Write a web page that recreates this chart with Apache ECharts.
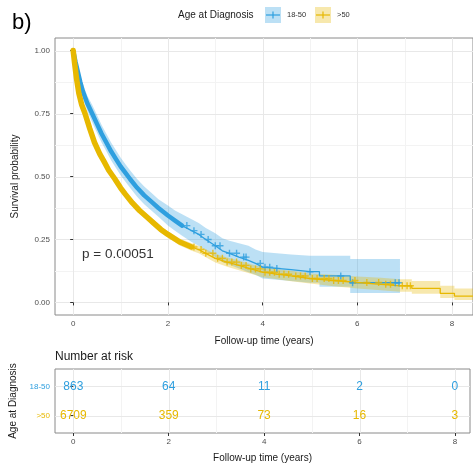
<!DOCTYPE html>
<html>
<head>
<meta charset="utf-8">
<script src="https://cdn.jsdelivr.net/npm/echarts@6/dist/echarts.min.js"></script>
<style>
  html, body { margin: 0; padding: 0; background: #fff; }
  #chart { width: 473px; height: 464px; }
</style>
</head>
<body>
<div id="chart"></div>
<script>
// ---- Kaplan–Meier estimate, age 18-50 ----
const youngTime  = [0, 0.05, 0.1, 0.15, 0.2, 0.3, 0.4, 0.5, 0.6, 0.7, 0.8, 0.9, 1.0, 1.1, 1.2, 1.35, 1.5, 1.65, 1.8, 2.0, 2.15, 2.3, 2.5, 2.65, 2.8, 3.0, 3.15, 3.3, 3.5, 3.7, 3.85, 4.0, 4.3, 4.6, 5.0, 5.2, 5.85, 6.9];
const youngSurv  = [1.0, 0.955, 0.915, 0.875, 0.84, 0.79, 0.75, 0.71, 0.67, 0.635, 0.60, 0.57, 0.54, 0.515, 0.49, 0.455, 0.425, 0.40, 0.375, 0.345, 0.325, 0.305, 0.285, 0.27, 0.25, 0.225, 0.205, 0.195, 0.18, 0.167, 0.155, 0.14, 0.135, 0.13, 0.122, 0.105, 0.078, 0.078];
const youngLower = [1.0, 0.94, 0.895, 0.85, 0.81, 0.76, 0.715, 0.675, 0.635, 0.60, 0.565, 0.535, 0.505, 0.48, 0.455, 0.42, 0.39, 0.365, 0.34, 0.305, 0.285, 0.265, 0.24, 0.225, 0.205, 0.18, 0.16, 0.15, 0.135, 0.12, 0.11, 0.095, 0.09, 0.085, 0.078, 0.062, 0.037, 0.037];
const youngUpper = [1.0, 0.97, 0.935, 0.90, 0.87, 0.82, 0.785, 0.745, 0.705, 0.67, 0.635, 0.605, 0.575, 0.55, 0.525, 0.49, 0.46, 0.435, 0.41, 0.385, 0.365, 0.35, 0.33, 0.315, 0.295, 0.275, 0.255, 0.245, 0.235, 0.225, 0.21, 0.20, 0.195, 0.19, 0.185, 0.185, 0.172, 0.172];
const youngCensor = [2.4, 2.55, 2.7, 2.85, 3.0, 3.1, 3.3, 3.45, 3.6, 3.65, 3.95, 4.05, 4.15, 4.3, 5.0, 5.65, 5.9, 6.8, 6.88];

// ---- Kaplan–Meier estimate, age > 50 ----
const oldTime  = [0, 0.03, 0.07, 0.12, 0.18, 0.25, 0.35, 0.45, 0.56, 0.65, 0.75, 0.88, 1.0, 1.1, 1.25, 1.4, 1.55, 1.7, 1.85, 2.0, 2.25, 2.5, 2.65, 2.8, 3.0, 3.25, 3.5, 3.75, 4.0, 4.3, 4.6, 5.0, 5.5, 6.0, 6.5, 6.9, 7.15, 7.75, 8.05, 8.6];
const oldSurv  = [1.0, 0.95, 0.89, 0.83, 0.785, 0.75, 0.69, 0.635, 0.59, 0.56, 0.525, 0.49, 0.455, 0.43, 0.395, 0.365, 0.34, 0.315, 0.29, 0.27, 0.24, 0.22, 0.21, 0.195, 0.175, 0.16, 0.147, 0.133, 0.12, 0.112, 0.105, 0.095, 0.087, 0.079, 0.072, 0.066, 0.056, 0.036, 0.025, 0.025];
const oldLower = [1.0, 0.945, 0.883, 0.822, 0.776, 0.74, 0.68, 0.625, 0.58, 0.549, 0.514, 0.478, 0.443, 0.418, 0.383, 0.352, 0.327, 0.302, 0.277, 0.257, 0.226, 0.205, 0.195, 0.179, 0.158, 0.142, 0.128, 0.114, 0.10, 0.092, 0.084, 0.075, 0.064, 0.055, 0.048, 0.042, 0.034, 0.018, 0.01, 0.01];
const oldUpper = [1.0, 0.955, 0.897, 0.838, 0.794, 0.76, 0.70, 0.645, 0.60, 0.571, 0.536, 0.502, 0.467, 0.442, 0.407, 0.378, 0.353, 0.328, 0.303, 0.283, 0.254, 0.235, 0.225, 0.211, 0.192, 0.178, 0.166, 0.152, 0.14, 0.132, 0.126, 0.115, 0.11, 0.103, 0.098, 0.092, 0.085, 0.066, 0.055, 0.055];
const oldCensor = [2.55, 2.7, 2.8, 2.95, 3.05, 3.15, 3.25, 3.35, 3.45, 3.55, 3.65, 3.75, 3.85, 3.95, 4.05, 4.15, 4.25, 4.35, 4.45, 4.55, 4.7, 4.8, 4.9, 5.05, 5.15, 5.3, 5.4, 5.5, 5.6, 5.7, 5.95, 6.2, 6.45, 6.6, 6.7, 6.95, 7.05, 7.12];

// ---- number at risk ----
const riskTimes = [0, 2, 4, 6, 8];
const youngRisk = [863, 64, 11, 2, 0];
const oldRisk   = [6709, 359, 73, 16, 3];

// ---- axes ----
const xTicks = [0, 2, 4, 6, 8];
const xMinor = [1, 3, 5, 7];
const yTicks = [0, 0.25, 0.5, 0.75, 1];
const yMinor = [0.125, 0.375, 0.625, 0.875];
const groupLabels = ['18-50', '>50'];
const pText = 'p = 0.00051';

const BLUE = '#2E9FDF', GOLD = '#E7B800';
const BLUE_FILL = 'rgba(46,159,223,0.32)', GOLD_FILL = 'rgba(231,184,0,0.32)';
const FONT = '"Liberation Sans", Arial, sans-serif';
const X_MIN = -0.384;

// Where events are dense the curve is drawn as a continuous trace; past `split`
// the individual drops are wide enough to show, so those points become steps.
function shaped(times, vals, split) {
  const out = [];
  times.forEach((t, i) => {
    if (i > 0 && t > split) out.push([t, vals[i - 1]]);
    out.push([t, vals[i]]);
  });
  return out;
}
const stepAt = (t, times, vals) => {
  let k = 0;
  for (let i = 0; i < times.length; i++) if (times[i] <= t) k = i;
  return vals[k];
};
const upTo = (times, vals, tEnd) => times.map((t, i) => [t, vals[i]]).filter(p => p[0] <= tEnd);
const censorPoints = (cs, times, vals) => cs.map(c => [c, stepAt(c, times, vals)]);

// filled "+" glyph for censoring marks
const PLUS = 'path://M4,0H6V4H10V6H6V10H4V6H0V4H4Z';

function gridSeries(xIdx, yIdx, vMajor, vMinor, hMajor, hMinor) {
  return {
    type: 'custom', xAxisIndex: xIdx, yAxisIndex: yIdx, z: 0, silent: true, data: [[0, 1]],
    renderItem(params, api) {
      const cs = params.coordSys;
      const kids = [];
      const v = (val, color, w) => {
        const x = Math.round(api.coord([val, 1])[0]) + 0.5;
        kids.push({ type: 'line', shape: { x1: x, y1: cs.y, x2: x, y2: cs.y + cs.height }, style: { stroke: color, lineWidth: w } });
      };
      const h = (val, color, w) => {
        const y = Math.round(api.coord([0, val])[1]) + 0.5;
        kids.push({ type: 'line', shape: { x1: cs.x, y1: y, x2: cs.x + cs.width, y2: y }, style: { stroke: color, lineWidth: w } });
      };
      vMinor.forEach(a => v(a, '#f3f3f3', 1));
      hMinor.forEach(a => h(a, '#f3f3f3', 1));
      vMajor.forEach(a => v(a, '#e8e8e8', 1));
      hMajor.forEach(a => h(a, '#e8e8e8', 1));
      return { type: 'group', children: kids };
    }
  };
}

function bandSeries(times, lo, hi, split, fill, z) {
  return {
    type: 'custom', z: z, silent: true, data: [[0, 1]],
    renderItem(params, api) {
      const up = shaped(times, hi, split).map(p => api.coord(p));
      const dn = shaped(times, lo, split).map(p => api.coord(p)).reverse();
      return { type: 'polygon', shape: { points: up.concat(dn) }, style: { fill: fill } };
    }
  };
}

// number-at-risk cells: the count is written at its (time, row) position
function riskSeries(counts, row, color) {
  return {
    type: 'custom', xAxisIndex: 1, yAxisIndex: 1, z: 5, silent: true,
    data: riskTimes.map((t, i) => [t, row, counts[i]]),
    renderItem(params, api) {
      const p = api.coord([api.value(0), api.value(1)]);
      return { type: 'text', x: p[0], y: p[1],
        style: { text: String(api.value(2)), fill: color, fontSize: 12, fontFamily: FONT, align: 'center', verticalAlign: 'middle' } };
    }
  };
}

const axisLabelStyle = { fontSize: 8, color: '#4d4d4d', fontFamily: FONT };
const axisNameStyle = { fontSize: 10, color: '#1a1a1a', fontFamily: FONT };
const tickStyle = { show: true, length: 3, lineStyle: { color: '#333' } };

const chart = echarts.init(document.getElementById('chart'), null, { renderer: 'canvas' });

chart.setOption({
  animation: false,
  backgroundColor: '#fff',
  textStyle: { fontFamily: FONT },
  grid: [
    { left: 55, top: 38, right: -3, bottom: 149, show: true, borderColor: '#8a8a8a', borderWidth: 1, backgroundColor: 'transparent' },
    { left: 55, top: 369, right: 3, bottom: 31, show: true, borderColor: '#8a8a8a', borderWidth: 1, backgroundColor: 'transparent' }
  ],
  xAxis: [
    { gridIndex: 0, type: 'value', min: X_MIN, max: X_MIN + 421 / 47.7,
      axisLine: { show: false }, splitLine: { show: false },
      axisTick: { ...tickStyle, customValues: xTicks },
      axisLabel: { customValues: xTicks, margin: 5, ...axisLabelStyle },
      name: 'Follow-up time (years)', nameLocation: 'middle', nameGap: 21, nameTextStyle: axisNameStyle },
    { gridIndex: 1, type: 'value', min: X_MIN, max: X_MIN + 415 / 47.7,
      axisLine: { show: false }, splitLine: { show: false },
      axisTick: { ...tickStyle, customValues: xTicks },
      axisLabel: { customValues: xTicks, margin: 5, ...axisLabelStyle },
      name: 'Follow-up time (years)', nameLocation: 'middle', nameGap: 20, nameTextStyle: axisNameStyle }
  ],
  yAxis: [
    { gridIndex: 0, type: 'value', min: -0.05, max: 1.05,
      axisLine: { show: false }, splitLine: { show: false },
      axisTick: { ...tickStyle, customValues: yTicks },
      axisLabel: { customValues: yTicks, margin: 5, formatter: v => v.toFixed(2), ...axisLabelStyle },
      name: 'Survival probability', nameLocation: 'middle', nameGap: 35, nameTextStyle: axisNameStyle },
    { gridIndex: 1, type: 'value', min: 0.4, max: 2.6,
      axisLine: { show: false }, splitLine: { show: false },
      axisTick: { ...tickStyle, customValues: [1, 2] },
      axisLabel: { customValues: [1, 2], margin: 5, fontSize: 8, fontFamily: FONT,
        formatter: v => v === 2 ? '{a|' + groupLabels[0] + '}' : '{b|' + groupLabels[1] + '}',
        rich: { a: { color: BLUE, fontSize: 8, fontFamily: FONT }, b: { color: GOLD, fontSize: 8, fontFamily: FONT } } },
      name: 'Age at Diagnosis', nameLocation: 'middle', nameGap: 36, nameTextStyle: axisNameStyle }
  ],
  series: [
    gridSeries(0, 0, xTicks, xMinor, yTicks, yMinor),
    gridSeries(1, 1, xTicks, xMinor, [1, 2], []),

    // confidence bands
    bandSeries(youngTime, youngLower, youngUpper, 5.0, BLUE_FILL, 1),
    bandSeries(oldTime, oldLower, oldUpper, 6.9, GOLD_FILL, 1),

    // survival curves
    { name: groupLabels[0], type: 'line', symbol: 'none', z: 3, silent: true,
      data: shaped(youngTime, youngSurv, 5.0), lineStyle: { color: BLUE, width: 1.3 } },
    { name: groupLabels[1], type: 'line', symbol: 'none', z: 3, silent: true,
      data: shaped(oldTime, oldSurv, 6.9), lineStyle: { color: GOLD, width: 1.3 } },

    // densely censored early stretch: the crowded "+" marks merge into a thick trace
    { type: 'line', symbol: 'none', z: 4, silent: true,
      data: upTo(youngTime, youngSurv, 2.3), lineStyle: { color: BLUE, width: 4.5, cap: 'round', join: 'round' } },
    { type: 'line', symbol: 'none', z: 4, silent: true,
      data: upTo(oldTime, oldSurv, 2.5), lineStyle: { color: GOLD, width: 5.5, cap: 'round', join: 'round' } },

    // sparse censoring marks
    { type: 'scatter', symbol: PLUS, symbolSize: 7, z: 5, silent: true,
      data: censorPoints(youngCensor, youngTime, youngSurv), itemStyle: { color: BLUE } },
    { type: 'scatter', symbol: PLUS, symbolSize: 7, z: 5, silent: true,
      data: censorPoints(oldCensor, oldTime, oldSurv), itemStyle: { color: GOLD } },

    // number-at-risk table
    riskSeries(youngRisk, 2, BLUE),
    riskSeries(oldRisk, 1, GOLD)
  ],
  graphic: [
    { type: 'text', left: 12, top: 12, style: { text: 'b)', fontSize: 22, fill: '#000', fontFamily: FONT } },
    // legend
    { type: 'text', x: 178, y: 15, style: { text: 'Age at Diagnosis', fontSize: 10, fill: '#1a1a1a', fontFamily: FONT, verticalAlign: 'middle' } },
    { type: 'rect', shape: { x: 265, y: 7, width: 16, height: 16 }, style: { fill: BLUE_FILL } },
    { type: 'line', shape: { x1: 266, y1: 15, x2: 280, y2: 15 }, style: { stroke: BLUE, lineWidth: 1.2 } },
    { type: 'line', shape: { x1: 273, y1: 11.5, x2: 273, y2: 18.5 }, style: { stroke: BLUE, lineWidth: 1.2 } },
    { type: 'text', x: 287, y: 15, style: { text: groupLabels[0], fontSize: 7.5, fill: '#333', fontFamily: FONT, verticalAlign: 'middle' } },
    { type: 'rect', shape: { x: 315, y: 7, width: 16, height: 16 }, style: { fill: GOLD_FILL } },
    { type: 'line', shape: { x1: 316, y1: 15, x2: 330, y2: 15 }, style: { stroke: GOLD, lineWidth: 1.2 } },
    { type: 'line', shape: { x1: 323, y1: 11.5, x2: 323, y2: 18.5 }, style: { stroke: GOLD, lineWidth: 1.2 } },
    { type: 'text', x: 337, y: 15, style: { text: groupLabels[1], fontSize: 7.5, fill: '#333', fontFamily: FONT, verticalAlign: 'middle' } },
    // log-rank p-value
    { type: 'text', x: 82, y: 254, style: { text: pText, fontSize: 13.5, fill: '#333', fontFamily: FONT, verticalAlign: 'middle' } },
    // risk table title
    { type: 'text', x: 55, y: 357, style: { text: 'Number at risk', fontSize: 12, fill: '#1a1a1a', fontFamily: FONT, verticalAlign: 'middle' } }
  ]
});
</script>
</body>
</html>
